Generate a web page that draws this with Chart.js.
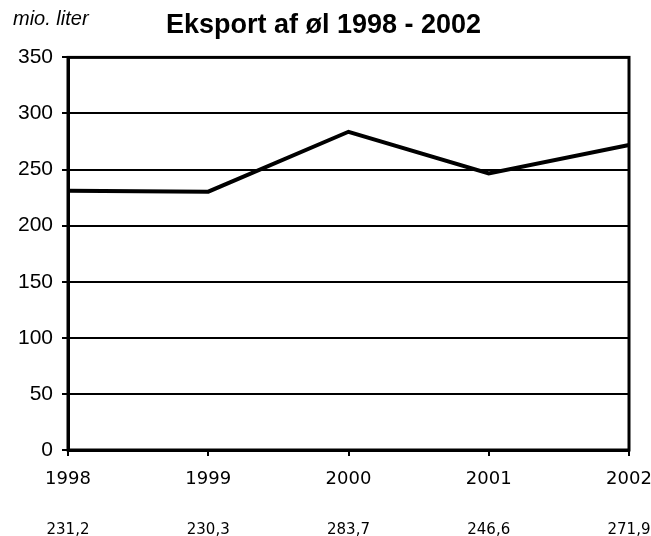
<!DOCTYPE html>
<html>
<head>
<meta charset="utf-8">
<script src="https://cdn.jsdelivr.net/npm/chart.js@4"></script>
<style>
  body { margin: 0; background: #fff; }
  #wrap { width: 651px; height: 536px; }
</style>
</head>
<body>
<div id="wrap"><canvas id="grafico"></canvas></div>
<script>
const aar = ["1998", "1999", "2000", "2001", "2002"]
const eksport = [231.2, 230.3, 283.7, 246.6, 271.9] // mio. liter
const yTicks = [0, 50, 100, 150, 200, 250, 300, 350]

// tallene under akserne, med komma som decimaltegn
const tekstVaerdier = eksport.map(v => v.toFixed(1).replace(".", ","))

const rammePlugin = {
  id: "ramme",
  afterDatasetsDraw(chart) {
    const {ctx, chartArea: a} = chart
    ctx.save()
    ctx.strokeStyle = "#000"
    ctx.lineWidth = 3
    ctx.strokeRect(a.left, a.top, a.right - a.left, a.bottom - a.top)
    ctx.restore()
  },
  afterDraw(chart) {
    const ctx = chart.ctx
    ctx.save()
    ctx.fillStyle = "#000"
    ctx.font = "italic 20px 'Liberation Sans'"
    ctx.textBaseline = "alphabetic"
    ctx.fillText("mio. liter", 13, 25)
    ctx.restore()
  }
}

// fast hoejde paa x-akserne, ellers skubber chart.js plotomraadet ind
const fastHoejde = (h) => (scale) => {
  scale.height = h
  scale.paddingLeft = 0
  scale.paddingRight = 0
}

new Chart(document.getElementById("grafico"), {
  type: "line",
  data: {
    labels: aar,
    datasets: [{
      label: "Eksport",
      data: eksport,
      borderColor: "#000",
      borderWidth: 4,
      pointRadius: 0,
      tension: 0,
      fill: false
    }]
  },
  options: {
    responsive: true,
    maintainAspectRatio: false,
    animation: false,
    layout: { padding: { top: 4, left: 18, right: 22, bottom: 0 } },
    plugins: {
      legend: { display: false },
      tooltip: { enabled: false },
      title: {
        display: true,
        text: "Eksport af øl 1998 - 2002",
        color: "#000",
        font: { family: "Liberation Sans", size: 27, weight: "bold" },
        padding: { top: 5, bottom: 16 }
      }
    },
    scales: {
      x: {
        type: "category",
        offset: false,
        afterFit: fastHoejde(39),
        grid: { drawOnChartArea: false, color: "#000", lineWidth: 2, tickLength: 6 },
        border: { color: "#000", width: 3 },
        ticks: {
          color: "#000",
          font: { family: "DejaVu Sans", size: 18 },
          padding: 13,
          maxRotation: 0,
          autoSkip: false
        }
      },
      x2: {
        type: "category",
        position: "bottom",
        labels: tekstVaerdier,
        offset: false,
        afterFit: fastHoejde(47),
        grid: { display: false, drawTicks: false },
        border: { display: false },
        ticks: {
          color: "#000",
          font: { family: "DejaVu Sans", size: 15 },
          padding: 32,
          maxRotation: 0,
          autoSkip: false
        }
      },
      y: {
        min: 0,
        max: 350,
        afterBuildTicks: (scale) => { scale.ticks = yTicks.map(v => ({value: v})) },
        afterFit: (scale) => { scale.width = 50 },
        grid: { color: "#000", lineWidth: 2, tickLength: 6 },
        border: { color: "#000", width: 3 },
        ticks: {
          color: "#000",
          font: { family: "Liberation Sans", size: 21 },
          padding: 9
        }
      }
    }
  },
  plugins: [rammePlugin]
})
</script>
</body>
</html>
